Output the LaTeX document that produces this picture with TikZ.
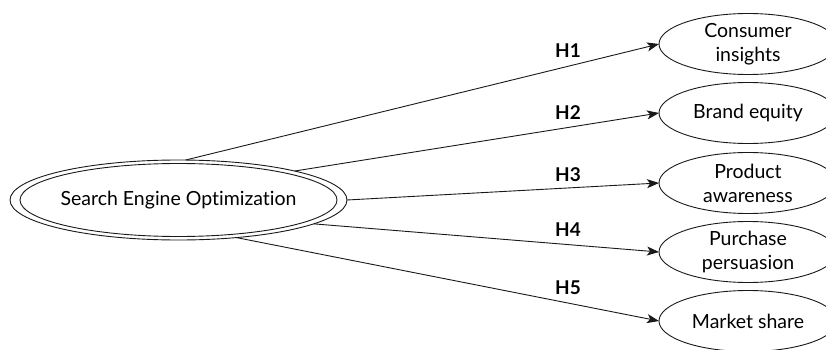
\documentclass[tikz,border=0pt]{standalone}
\usepackage{fontspec}
\setmainfont[Ligatures=NoCommon]{Lato}
\usetikzlibrary{shapes.geometric,arrows.meta}
\tikzset{
  line/.style={line width=0.9pt, draw=black!90},
  arr/.style={line, -{Stealth[length=12pt,width=9pt,inset=3pt]}},
  target/.style={ellipse, draw=black!90, line width=0.9pt, minimum width=178pt, minimum height=61pt,
     inner sep=0pt, outer sep=0pt, align=center, font=\fontsize{19.5}{24}\selectfont},
  hlab/.style={font=\fontsize{19}{22}\selectfont\bfseries, inner sep=0pt},
}
\begin{document}
\begin{tikzpicture}[x=1pt,y=-1pt]
\useasboundingbox (0,0) rectangle (826,350);
\clip (0,0) rectangle (826,350);
\node[ellipse, draw=black!90, line width=0.9pt, minimum width=337pt, minimum height=80pt, inner sep=0pt, outer sep=0pt,
  font=\fontsize{19.5}{24}\selectfont] (seo) at (178.5,200) {Search Engine Optimization};
\draw[line] (seo.center) ellipse [x radius=158.5, y radius=36.5];

\node[target] (ci) at (748,44) {Consumer\\insights};
\node[target] (be) at (748,113) {Brand equity};
\node[target] (pa) at (748,183) {Product\\awareness};
\node[target] (pp) at (748,252) {Purchase\\persuasion};
\node[target] (ms) at (748,321) {Market share};

\draw[arr] (seo.80.5) -- (ci.west);
\draw[arr] (seo.14.6) -- (be.west);
\draw[arr] (seo.0) -- (pa.west);
\draw[arr] (seo.-10.1) -- (pp.west);
\draw[arr] (seo.-33.9) -- (ms.west);

\node[hlab] (h1) at (568,51) {H1};
\node[hlab] (h2) at (568,113) {H2};
\node[hlab] (h3) at (568,175) {H3};
\node[hlab] (h4) at (568,230) {H4};
\node[hlab] (h5) at (568,288) {H5};
\end{tikzpicture}
\end{document}
